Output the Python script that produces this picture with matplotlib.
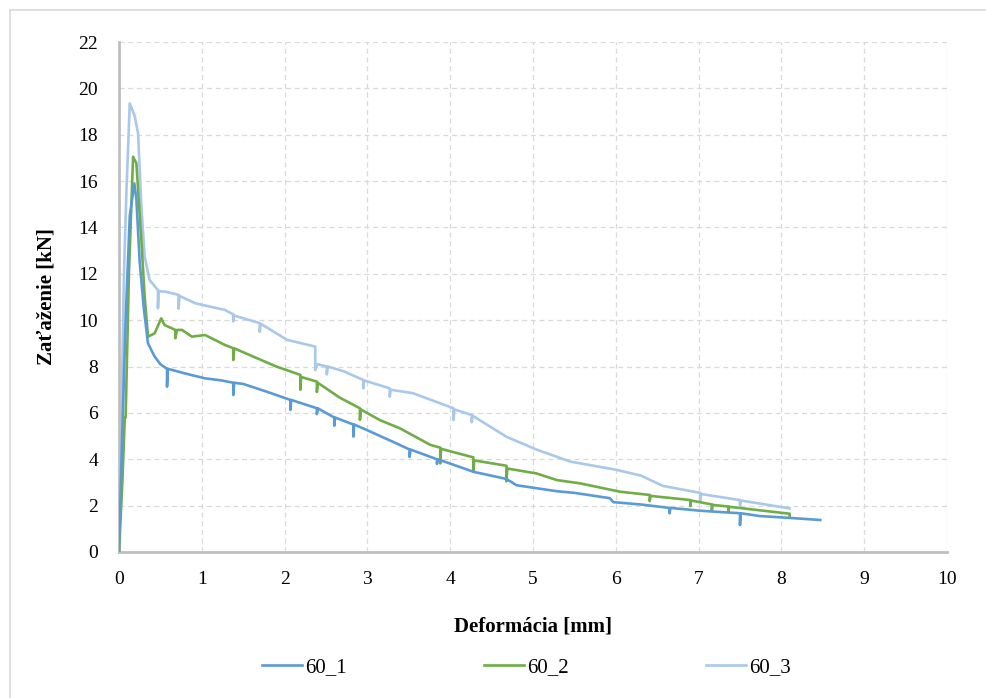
import matplotlib
matplotlib.use('Agg')
from matplotlib import pyplot as plt
from matplotlib.lines import Line2D

# 60_1
x1 = [0, 0.03, 0.08, 0.13, 0.185, 0.21, 0.25, 0.3, 0.35, 0.43, 0.5, 0.58, 0.58, 0.59, 0.8, 1.04, 1.24,
      1.38, 1.38, 1.39, 1.5, 1.78, 2.07, 2.07, 2.08, 2.39, 2.39, 2.40, 2.6, 2.6, 2.61, 2.83, 2.83, 2.84,
      3.0, 3.31, 3.51, 3.51, 3.52, 3.84, 3.84, 3.85, 4.28, 4.68, 4.80, 5.29, 5.5, 5.93, 5.97, 6.3,
      6.65, 6.65, 6.66, 7.02, 7.5, 7.5, 7.51, 7.74, 8.1, 8.47]
y1 = [0, 4, 10, 14.5, 15.9, 15.2, 12.5, 10.5, 9.0, 8.43, 8.1, 7.9, 7.13, 7.9, 7.7, 7.49, 7.4,
      7.3, 6.77, 7.3, 7.25, 6.92, 6.56, 6.13, 6.56, 6.2, 5.95, 6.2, 5.8, 5.45, 5.8, 5.5, 4.98, 5.5,
      5.25, 4.75, 4.42, 4.1, 4.42, 4.0, 3.8, 4.0, 3.46, 3.15, 2.88, 2.62, 2.55, 2.32, 2.15, 2.05,
      1.9, 1.67, 1.9, 1.78, 1.67, 1.16, 1.67, 1.55, 1.47, 1.38]

# 60_2
x2 = [0, 0.04, 0.07, 0.08, 0.12, 0.17, 0.21, 0.27, 0.31, 0.35, 0.43, 0.51, 0.55, 0.68, 0.68, 0.70,
      0.76, 0.88, 1.04, 1.28, 1.38, 1.38, 1.39, 1.62, 1.9, 2.19, 2.19, 2.20, 2.39, 2.39, 2.40, 2.67,
      2.91, 2.91, 2.92, 3.15, 3.39, 3.76, 3.88, 3.88, 3.89, 4.28, 4.28, 4.29, 4.68, 4.68, 4.69, 5.04,
      5.29, 5.57, 6.05, 6.41, 6.41, 6.42, 6.9, 6.9, 6.91, 7.16, 7.16, 7.17, 7.36, 7.36, 7.37, 8.1, 8.1]
y2 = [0, 3, 5.8, 5.8, 12, 17.05, 16.77, 13.46, 11.0, 9.29, 9.43, 10.08, 9.79, 9.58, 9.22, 9.58,
      9.58, 9.29, 9.36, 8.93, 8.79, 8.28, 8.79, 8.43, 8.0, 7.64, 7.0, 7.55, 7.35, 6.9, 7.3, 6.65,
      6.2, 5.7, 6.15, 5.69, 5.34, 4.62, 4.5, 3.82, 4.45, 4.08, 3.47, 3.95, 3.72, 3.05, 3.6, 3.39,
      3.1, 2.96, 2.6, 2.46, 2.2, 2.42, 2.24, 1.98, 2.22, 2.05, 1.8, 2.03, 1.96, 1.72, 1.95, 1.65, 1.52]

# 60_3
x3 = [0, 0.03, 0.06, 0.09, 0.13, 0.19, 0.23, 0.27, 0.31, 0.37, 0.47, 0.47, 0.48, 0.56, 0.72, 0.72,
      0.73, 0.92, 1.28, 1.38, 1.38, 1.39, 1.70, 1.70, 1.71, 2.03, 2.37, 2.37, 2.40, 2.51, 2.51, 2.52,
      2.71, 2.95, 2.95, 2.96, 3.27, 3.27, 3.28, 3.55, 4.04, 4.04, 4.05, 4.26, 4.26, 4.27, 4.68, 5.04,
      5.45, 6.0, 6.3, 6.57, 7.02, 7.02, 7.03, 7.5, 7.5, 7.51, 8.1]
y3 = [0, 6, 12, 15.6, 19.35, 18.8, 18.06, 14.9, 12.74, 11.73, 11.3, 10.51, 11.25, 11.23, 11.09, 10.5,
      11.05, 10.73, 10.44, 10.25, 9.95, 10.2, 9.87, 9.5, 9.85, 9.15, 8.86, 7.85, 8.1, 8.0, 7.66, 8.0,
      7.8, 7.42, 7.06, 7.4, 7.06, 6.7, 7.0, 6.85, 6.2, 5.69, 6.15, 5.91, 5.6, 5.88, 4.97, 4.42,
      3.9, 3.55, 3.3, 2.85, 2.55, 2.18, 2.5, 2.24, 2.0, 2.22, 1.88]

labels = ['60_1', '60_2', '60_3']
colors = ['#5B9BD5', '#70AD47', '#A9C8EA']

plt.rcParams['font.family'] = ['Liberation Serif', 'DejaVu Serif']

fig = plt.figure(figsize=(9.86, 6.98), dpi=100)
ax = fig.add_axes([0.1207, 0.2092, 0.8397, 0.7306])

# darker series drawn on top of the light one
for xs, ys, lab, col, z in zip([x1, x2, x3], [y1, y2, y3], labels, colors, [4, 3, 2]):
    ax.plot(xs, ys, color=col, lw=1.9, label=lab, zorder=z)

ax.set_xlim(0, 10)
ax.set_ylim(0, 22)
ax.set_xticks(range(0, 11))
ax.set_yticks(range(0, 23, 2))
ax.tick_params(length=0, labelsize=14)
ax.tick_params(axis='y', pad=15)
ax.tick_params(axis='x', pad=14)
ax.grid(True, ls=(0, (4, 3)), color='#d9d9d9', lw=0.9)
ax.set_axisbelow(True)
for s in ['top', 'right']:
    ax.spines[s].set_visible(False)
for s in ['left', 'bottom']:
    ax.spines[s].set_color('#bfbfbf')
    ax.spines[s].set_linewidth(2)

ax.set_xlabel('Deformácia [mm]', fontsize=15, fontweight='bold', labelpad=20)
ax.set_ylabel('Zaťaženie [kN]', fontsize=15, fontweight='bold', labelpad=16)

ax.legend(loc='center', bbox_to_anchor=(0.534, 0.044), bbox_transform=fig.transFigure,
          ncol=3, frameon=False, fontsize=15, handlelength=1.9, handletextpad=0.15,
          columnspacing=6.6)

# outer chart frame
fig.add_artist(Line2D([0.0105, 0.0105], [0, 0.986], transform=fig.transFigure, color='#d9d9d9', lw=1.2))
fig.add_artist(Line2D([0.0105, 1], [0.986, 0.986], transform=fig.transFigure, color='#d9d9d9', lw=1.2))

fig.savefig('out.png', dpi=100)
